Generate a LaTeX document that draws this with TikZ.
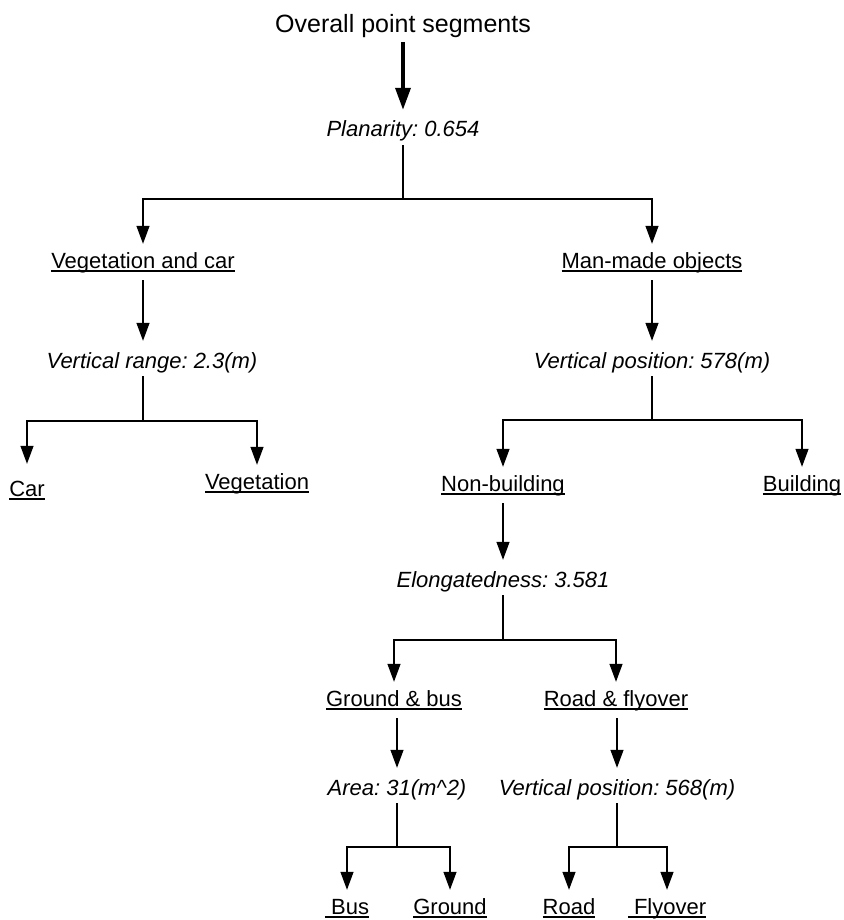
\documentclass[tikz,border=0pt]{standalone}
\usepackage{fontspec}
\setmainfont{Liberation Sans}
\usetikzlibrary{arrows.meta}
\frenchspacing
\newcommand{\ulin}[1]{\setbox0\hbox{#1}\rlap{\rule[-3.6pt]{\wd0}{1.3pt}}\box0}
\tikzset{
  cls/.style={anchor=base,inner sep=0pt,text height=24pt,text depth=12pt,
    font=\fontsize{22}{26}\selectfont},
  crit/.style={cls,text height=27pt,text depth=8pt,
    font=\fontsize{22}{26}\selectfont\itshape},
  conn/.style={line width=1.3pt},
  arr/.style={conn,-{Triangle[width=13pt,length=18pt]}}
}
\begin{document}
\begin{tikzpicture}[x=1pt,y=-1pt]
\useasboundingbox (0,0) rectangle (843,920);
% root
\node[anchor=base,inner sep=0pt,text depth=9pt,font=\fontsize{25}{30}\selectfont]
  (title) at (403,33) {Overall point segments};
\node[crit] (plan) at (403,137) {Planarity: 0.654};
\node[cls] (vc) at (143,268) {\ulin{Vegetation and car}};
\node[cls] (mm) at (652,268) {\ulin{Man-made objects}};
% left branch
\node[crit] (vr) at (152,368) {Vertical range: 2.3(m)};
\node[cls,text height=32pt] (car) at (27,496) {\ulin{Car}};
\node[cls] (veg) at (257,489) {\ulin{Vegetation}};
% right branch
\node[crit] (vp1) at (652,368) {Vertical position: 578(m)};
\node[cls] (nonb) at (503,491) {\ulin{Non-building}};
\node[cls] (bldg) at (802,491) {\ulin{Building}};
\node[crit] (elong) at (503,587) {Elongatedness: 3.581};
\node[cls] (gb) at (394,706) {\ulin{Ground \& bus}};
\node[cls] (rf) at (616,706) {\ulin{Road \& flyover}};
\node[crit] (area) at (397,795) {Area: 31(m\textasciicircum 2)};
\node[crit] (vp2) at (617,795) {Vertical position: 568(m)};
\node[cls] (bus) at (347,914) {\ulin{\ Bus}};
\node[cls] (gnd) at (450,914) {\ulin{Ground}};
\node[cls] (road) at (569,914) {\ulin{Road}};
\node[cls] (fly) at (667,914) {\ulin{\ Flyover}};
% junctions
\coordinate (j1) at (403,199);
\coordinate (j2) at (143,421);
\coordinate (j3) at (652,420);
\coordinate (j4) at (503,640);
\coordinate (j5) at (397,847);
\coordinate (j6) at (617,847);
% connectors
\draw[line width=3.5pt,-{Triangle[width=15pt,length=22pt]}] (title.south) -- (plan.north);
\draw[conn] (plan.south) -- (j1);
\draw[arr] (j1) -| (vc.north);
\draw[arr] (j1) -| (mm.north);
\draw[arr] (vc.south) -- (vc.south |- vr.north);
\draw[conn] (j2 |- vr.south) -- (j2);
\draw[arr] (j2) -| (car.north);
\draw[arr] (j2) -| (veg.north);
\draw[arr] (mm.south) -- (vp1.north);
\draw[conn] (vp1.south) -- (j3);
\draw[arr] (j3) -| (nonb.north);
\draw[arr] (j3) -| (bldg.north);
\draw[arr] (nonb.south) -- (elong.north);
\draw[conn] (elong.south) -- (j4);
\draw[arr] (j4) -| (gb.north);
\draw[arr] (j4) -| (rf.north);
\draw[arr] (area.north |- gb.south) -- (area.north);
\draw[conn] (area.south) -- (j5);
\draw[arr] (j5) -| (bus.north);
\draw[arr] (j5) -| (gnd.north);
\draw[arr] (vp2.north |- rf.south) -- (vp2.north);
\draw[conn] (vp2.south) -- (j6);
\draw[arr] (j6) -| (road.north);
\draw[arr] (j6) -| (fly.north);
\end{tikzpicture}
\end{document}
